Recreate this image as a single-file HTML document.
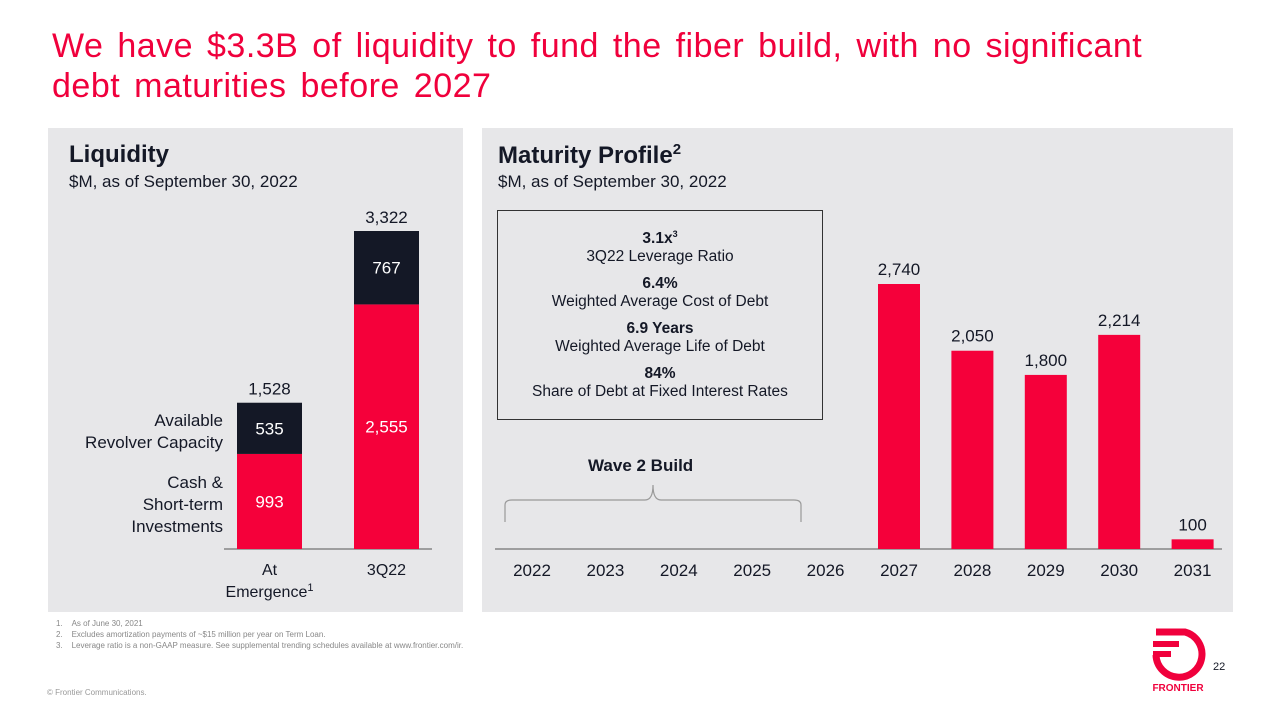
<!DOCTYPE html>
<html><head><meta charset="utf-8"><style>
body{margin:0;width:1280px;height:720px;background:#fff;font-family:"Liberation Sans",sans-serif;position:relative;overflow:hidden}
.a{position:absolute}
</style></head><body>
<div class="a" style="left:52px;top:26px;font-size:34px;line-height:40px;color:#f0003c;width:1200px;white-space:nowrap;word-spacing:4px;letter-spacing:0.5px">We have $3.3B of liquidity to fund the fiber build, with no significant<br>debt maturities before 2027</div>
<div class="a" style="left:48px;top:128px;width:415px;height:484px;background:#e7e7e9"></div>
<div class="a" style="left:482px;top:128px;width:751px;height:484px;background:#e7e7e9"></div>
<div class="a" style="left:69px;top:141px;font-size:24px;font-weight:bold;color:#141826">Liquidity</div>
<div class="a" style="left:69px;top:172px;font-size:17px;color:#141826">$M, as of September 30, 2022</div>
<div class="a" style="left:498px;top:141px;font-size:24px;font-weight:bold;color:#141826">Maturity Profile<sup style="font-size:15px">2</sup></div>
<div class="a" style="left:498px;top:172px;font-size:17px;color:#141826">$M, as of September 30, 2022</div>
<div class="a" style="left:497px;top:210px;width:326px;height:210px;border:1px solid #333;text-align:center;font-size:15.5px;color:#141826;line-height:18px;box-sizing:border-box;padding-top:14px">
<b>3.1x<sup style="font-size:9px">3</sup></b><br>3Q22 Leverage Ratio<div style="height:9px"></div><b>6.4%</b><br>Weighted Average Cost of Debt<div style="height:9px"></div><b>6.9 Years</b><br>Weighted Average Life of Debt<div style="height:9px"></div><b>84%</b><br>Share of Debt at Fixed Interest Rates</div>
<div class="a" style="left:588px;top:456px;font-size:17px;font-weight:bold;color:#141826">Wave 2 Build</div>
<svg class="a" style="left:0;top:0" width="1280" height="720"><path d="M505 522 V505 Q505 500 512 500 H645 Q653 500 653 485 Q653 500 661 500 H794 Q801 500 801 505 V522" fill="none" stroke="#999" stroke-width="1.2"/></svg>
<div class="a" style="left:60px;top:410px;width:163px;text-align:right;font-size:17px;line-height:22px;color:#141826">Available<br>Revolver Capacity</div>
<div class="a" style="left:60px;top:472px;width:163px;text-align:right;font-size:17px;line-height:22px;color:#141826">Cash &amp;<br>Short-term<br>Investments</div>
<svg id="c" class="a" style="left:0;top:0" width="1280" height="720"></svg>
<div class="a" style="left:56px;top:618px;font-size:8px;line-height:11px;color:#888">1.&nbsp;&nbsp;&nbsp;&nbsp;As of June 30, 2021<br>2.&nbsp;&nbsp;&nbsp;&nbsp;Excludes amortization payments of ~$15 million per year on Term Loan.<br>3.&nbsp;&nbsp;&nbsp;&nbsp;Leverage ratio is a non-GAAP measure. See supplemental trending schedules available at www.frontier.com/ir.</div>
<div class="a" style="left:47px;top:688px;font-size:8px;color:#999">© Frontier Communications.</div>
<div class="a" style="left:1213px;top:661px;font-size:11px;color:#141826">22</div>
<svg class="a" style="left:1145px;top:625px" width="70" height="70">
<path d="M11 7 H40 A23 23 0 1 1 11 30" fill="none" stroke="#f0003c" stroke-width="7"/>
<rect x="8" y="16" width="26" height="6" fill="#f0003c"/><rect x="8" y="26" width="18" height="6" fill="#f0003c"/>
<text x="33" y="66" font-size="10" font-weight="bold" fill="#f0003c" text-anchor="middle" font-family="Liberation Sans">FRONTIER</text></svg>
<script>
const liqCats=["At|Emergence","3Q22"];
const liqCash=[993,2555];
const liqRevolver=[535,767];
const matYears=["2022","2023","2024","2025","2026","2027","2028","2029","2030","2031"];
const matValues=[0,0,0,0,0,2740,2050,1800,2214,100];
const RED="#f5003a",DARK="#141826",NS="http://www.w3.org/2000/svg";
const svg=document.getElementById('c');
function el(t,a,txt){const e=document.createElementNS(NS,t);for(const k in a)e.setAttribute(k,a[k]);if(txt!==undefined)e.textContent=txt;svg.appendChild(e);return e;}
const base=549;
const yL=v=>base-v*318/3322, xL=i=>237+i*117;
const yR=v=>base-v*265/2740, xR=i=>532+i*73.4;
let l=el('line',{x1:224,x2:432,y1:base,y2:base,stroke:'#555','stroke-width':1});


liqCats.forEach((c,i)=>{
 const x=xL(i),w=65,t1=yL(liqCash[i]),t2=yL(liqCash[i]+liqRevolver[i]);
 let r=el('rect',{x:x,y:t1,width:w,height:base-t1,fill:RED});
 
 
 let r2=el('rect',{x:x,y:t2,width:w,height:t1-t2,fill:DARK});
 
 
 el('text',{x:x+w/2,y:(t1+base)/2+6,'text-anchor':'middle','font-size':17,fill:'#fff'},liqCash[i].toLocaleString('en-US'));
 el('text',{x:x+w/2,y:(t1+t2)/2+6,'text-anchor':'middle','font-size':17,fill:'#fff'},liqRevolver[i].toLocaleString('en-US'));
 el('text',{x:x+w/2,y:t2-8,'text-anchor':'middle','font-size':17,fill:DARK},(liqCash[i]+liqRevolver[i]).toLocaleString('en-US'));
 c.split('|').forEach((s,j)=>{const t=el('text',{x:x+w/2,y:575+j*22,'text-anchor':'middle','font-size':16,fill:DARK},s);
  if(j==1){const ts=document.createElementNS(NS,'tspan');ts.setAttribute('font-size',11);ts.setAttribute('dy',-6);ts.textContent='1';t.appendChild(ts);}});
});
let l2=el('line',{x1:495,x2:1222,y1:base,y2:base,stroke:'#555','stroke-width':1});


matYears.forEach((y,i)=>{
 const cx=xR(i);
 el('text',{x:cx,y:576,'text-anchor':'middle','font-size':17,fill:DARK},y);
 if(matValues[i]>0){const t=yR(matValues[i]);
  let r=el('rect',{x:cx-21,y:t,width:42,height:base-t,fill:RED});
  
  
  el('text',{x:cx,y:t-9,'text-anchor':'middle','font-size':17,fill:DARK},matValues[i].toLocaleString('en-US'));}
});
</script>
</body></html>
